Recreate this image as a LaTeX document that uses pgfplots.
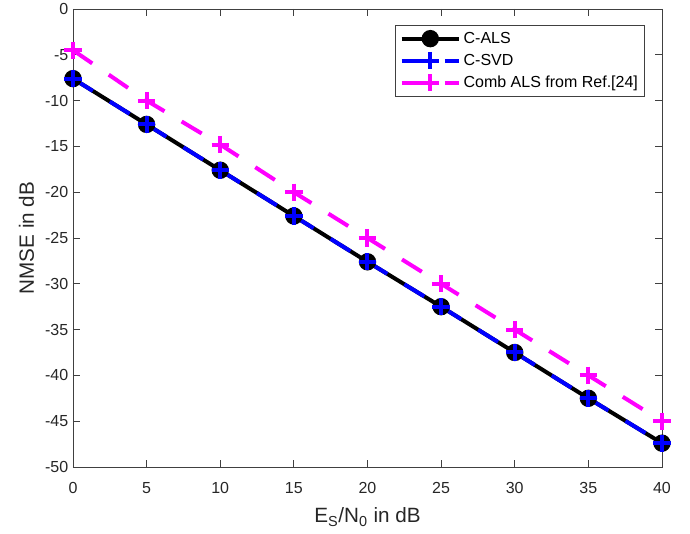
\documentclass[border=0pt]{standalone}
\usepackage{pgfplots}
\pgfplotsset{compat=1.18}
\usepackage{fontspec}
\setmainfont{Liberation Sans}
\definecolor{mag}{RGB}{255,0,255}
\begin{document}
\begin{tikzpicture}
\path[use as bounding box] (0pt,0pt) rectangle (517.5pt,400.5pt);
\begin{axis}[
  at={(54.75pt,50.25pt)}, anchor=south west,
  scale only axis, width=441.75pt, height=343.5pt,
  xmin=0, xmax=40, ymin=-50, ymax=0,
  xtick={0,5,...,40}, ytick={-50,-45,...,0},
  tick align=inside, tick pos=both,
  major tick length=5pt,
  axis line style={draw=black!75, line width=0.6pt},
  tick style={black!75, line width=0.6pt},
  ticklabel style={font=\fontsize{12}{14}\selectfont, text=black!85},
  xticklabel style={yshift=-8pt},
  /pgf/number format/assume math mode=true,
  xlabel={E\textsubscript{S}/N\textsubscript{0} in dB},
  ylabel={NMSE in dB},
  label style={font=\fontsize{15.5}{18}\selectfont, text=black!85},
  xlabel style={at={(axis description cs:0.5,0)}, anchor=base, yshift=-42pt},
  ylabel style={yshift=1.5pt},
  legend style={at={(1,1)}, anchor=north east, xshift=-12.75pt, yshift=-12pt,
    draw=black!75, line width=0.6pt,
    font=\fontsize{12}{14}\selectfont, row sep=2.6pt, inner sep=3pt},
  legend cell align=left,
  legend image code/.code={\draw[#1] (0pt,0pt) -- (43pt,0pt); \draw[#1,only marks] plot coordinates {(21.5pt,0pt)};},
]
\addplot[black, line width=3pt, mark=*, mark size=5pt] coordinates {
(0,-7.6)(5,-12.6)(10,-17.6)(15,-22.6)(20,-27.6)(25,-32.5)(30,-37.5)(35,-42.5)(40,-47.4)};
\addlegendentry{C-ALS}
\addplot[blue, line width=3pt, dash pattern=on 17.5pt off 15pt, mark=+, mark size=6.5pt, mark options={solid, line width=3pt}] coordinates {
(0,-7.6)(5,-12.6)(10,-17.6)(15,-22.6)(20,-27.6)(25,-32.5)(30,-37.5)(35,-42.5)(40,-47.4)};
\addlegendentry{C-SVD}
\addplot[mag, line width=3pt, dash pattern=on 17.5pt off 15pt, mark=+, mark size=6.5pt, mark options={solid, line width=3pt}] coordinates {
(0,-4.5)(5,-10)(10,-14.8)(15,-20)(20,-25)(25,-30)(30,-35)(35,-40)(40,-45)};
\addlegendentry{Comb ALS from Ref.[24]}
\end{axis}
\end{tikzpicture}
\end{document}
